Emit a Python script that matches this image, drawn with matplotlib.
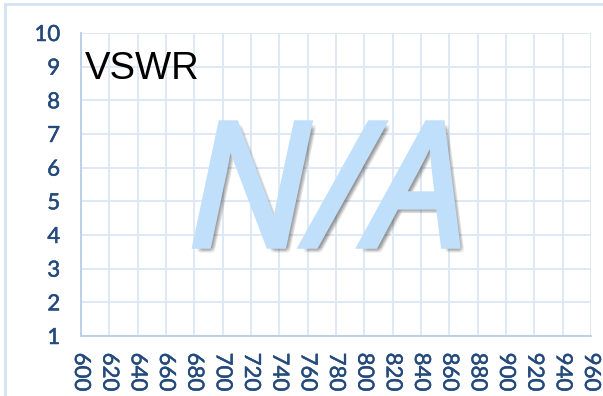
import matplotlib
matplotlib.use("Agg")
import matplotlib.pyplot as plt
import matplotlib.patheffects as pe
from matplotlib.patches import Rectangle

# Axis data
freq_ticks = list(range(600, 961, 20))
vswr_ticks = list(range(1, 11))
chart_title = "VSWR"
placeholder = "N/A"

W, H = 603, 396
fig = plt.figure(figsize=(W / 100, H / 100), dpi=100)

# outer chart frame
fig.patches.append(Rectangle((5 / W, -0.05), 1.2, (H - 4) / H + 0.05,
                             transform=fig.transFigure, fill=False,
                             edgecolor="#d9e4f2", linewidth=2.2, zorder=0))

ax = fig.add_axes([81 / W, (H - 336) / H, 510 / W, 303 / H])
ax.set_xlim(freq_ticks[0], freq_ticks[-1])
ax.set_ylim(vswr_ticks[0], vswr_ticks[-1])
ax.set_xticks(freq_ticks)
ax.set_yticks(vswr_ticks)
ax.set_xticklabels([str(v) for v in freq_ticks], rotation=-90)
ax.set_yticklabels([str(v) for v in vswr_ticks])

tick_col = "#244a7c"
ax.tick_params(axis="both", length=0, labelsize=16, labelcolor=tick_col)
ax.tick_params(axis="y", pad=15)
ax.tick_params(axis="x", pad=12)
for lab in ax.get_xticklabels() + ax.get_yticklabels():
    lab.set_family("Lato")
    lab.set_path_effects([pe.withStroke(linewidth=0.35, foreground=tick_col)])

ax.grid(True, color="#dce6f4", linewidth=1.3)
ax.set_axisbelow(True)
for side in ("top", "right"):
    ax.spines[side].set_visible(False)
for side in ("left", "bottom"):
    ax.spines[side].set_color("#b9cde6")
    ax.spines[side].set_linewidth(1.3)

fig.text(85 / W, 1 - 79 / H, chart_title, fontsize=27.5, family="Liberation Sans",
         color="black", ha="left", va="baseline")

# soft drop shadow built from stacked offset copies, then a thickened face
na_col = "#c0dffa"
effects = []
for dx in (1.5, 2.5, 3.5, 4.5):
    for dy in (-1.5, -2.5, -3.5, -4.5):
        effects.append(pe.SimplePatchShadow(offset=(dx, dy), shadow_rgbFace="#303030",
                                            alpha=0.045))
effects.append(pe.Stroke(linewidth=4, foreground=na_col, joinstyle="miter"))
effects.append(pe.Normal())
fig.text(327 / W, 1 - 246 / H, placeholder, fontsize=124, family="Open Sans",
         style="italic", color=na_col, ha="center", va="baseline",
         path_effects=effects)

fig.savefig("out.png", dpi=100)
